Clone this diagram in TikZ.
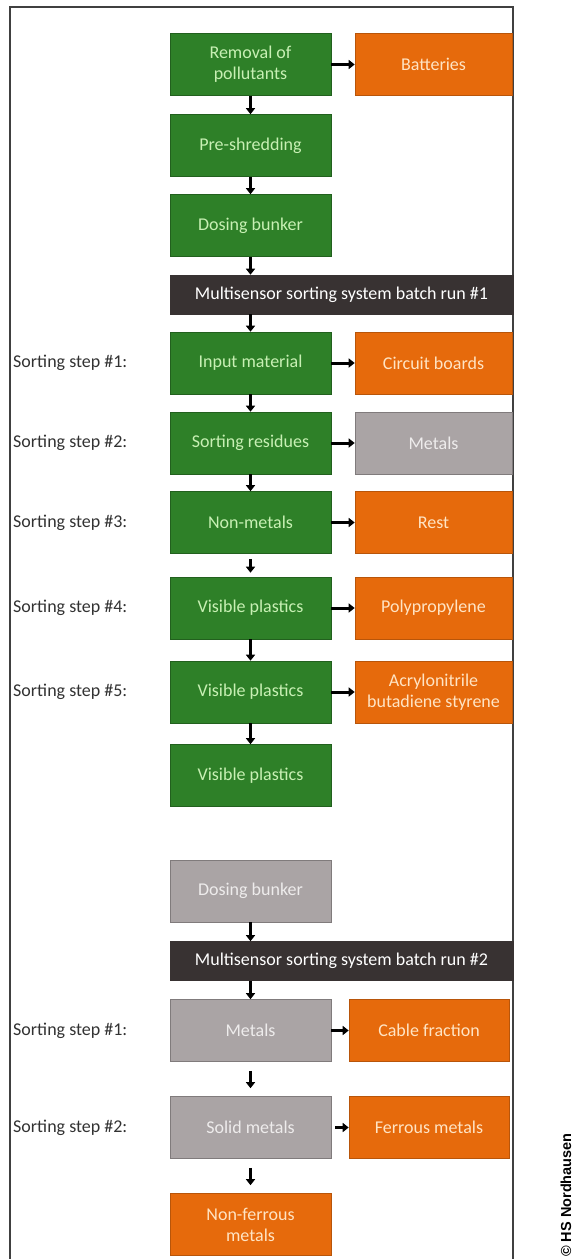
\documentclass[tikz,border=0pt]{standalone}
\usepackage{fontspec}
\setmainfont{Carlito}
\newfontfamily\credfont{Liberation Sans}
\usetikzlibrary{positioning,arrows.meta}
\usepackage{xcolor}
\definecolor{boxgreen}{RGB}{46,128,40}
\definecolor{greentxt}{RGB}{200,240,180}
\definecolor{boxorange}{RGB}{230,106,12}
\definecolor{orangetxt}{RGB}{255,228,196}
\definecolor{boxgray}{RGB}{170,164,165}
\definecolor{graytxt}{RGB}{238,236,236}
\definecolor{boxdark}{RGB}{56,50,50}
\definecolor{lbltxt}{RGB}{50,50,50}
\newcommand\boxfont{\fontsize{18}{21}\selectfont}

\begin{document}
\begin{tikzpicture}[
    x=1pt, y=-1pt,
    box/.style={minimum width=161pt, minimum height=62pt, inner sep=0pt, align=center, font=\boxfont, line width=0.6pt},
    Gbox/.style={box, fill=boxgreen, draw=boxgreen!75!black, text=greentxt},
    Obox/.style={box, minimum width=157pt, fill=boxorange, draw=boxorange!80!black, text=orangetxt},
    Sbox/.style={box, fill=boxgray, draw=boxgray!75!black, text=graytxt},
    Rbar/.style={box, minimum width=343pt, minimum height=39pt, fill=boxdark, draw=boxdark, text=white},
    flow/.style={-{Triangle[length=6pt, width=9pt]}, line width=3pt, black},
    stub/.style={flow, shorten <=9pt, shorten >=8pt},
    steplbl/.style={anchor=west, font=\boxfont, text=lbltxt, inner sep=0pt},
    frame/.style={line width=1.5pt, black!75},
]
\useasboundingbox (0,0) rectangle (573,1259);
\draw[frame] (10,1259) -- (10,7) -- (513,7) -- (513,1259);

% batch run 1
\node[Gbox] (rem) at (250.5, 64.5) {Removal of\\pollutants};
\node[Obox] (batt) at (433.5, 64.5) {Batteries};
\node[Gbox] (shred) at (250.5, 145.5) {Pre-shredding};
\node[Gbox] (dose) at (250.5, 225.5) {Dosing bunker};
\node[Rbar] (run1) at (341.5, 294.5) {Multisensor sorting system batch run \#1};
\node[Gbox] (inp) at (250.5, 363) {Input material};
\node[Obox] (circ) at (433.5, 363) {Circuit boards};
\node[Gbox] (res) at (250.5, 443) {Sorting residues};
\node[Sbox, minimum width=157pt] (metg) at (433.5, 443) {Metals};
\node[Gbox] (nonmet) at (250.5, 522.5) {Non-metals};
\node[Obox] (rest) at (433.5, 522.5) {Rest};
\node[Gbox] (vis4) at (250.5, 608) {Visible plastics};
\node[Obox] (pp) at (433.5, 608) {Polypropylene};
\node[Gbox] (vis5) at (250.5, 692) {Visible plastics};
\node[Obox] (abs) at (433.5, 692) {Acrylonitrile\\butadiene styrene};
\node[Gbox] (visend) at (250.5, 775.5) {Visible plastics};

\node[steplbl] (s1) at (13, 363) {Sorting step \#1:};
\node[steplbl] (s2) at (13, 443) {Sorting step \#2:};
\node[steplbl] (s3) at (13, 522.5) {Sorting step \#3:};
\node[steplbl] (s4) at (13, 608) {Sorting step \#4:};
\node[steplbl] (s5) at (13, 692) {Sorting step \#5:};

\draw[flow] (rem) -- (batt);
\draw[flow] (rem) -- (shred);
\draw[flow] (shred) -- (dose);
\draw[flow] (dose) -- (dose |- run1.north);
\draw[flow] (run1.south -| inp) -- (inp);
\draw[flow] (inp) -- (circ);
\draw[flow] (inp) -- (res);
\draw[flow] (res) -- (metg);
\draw[flow] (res) -- (nonmet);
\draw[flow] (nonmet) -- (rest);
\draw[flow, shorten <=5pt, shorten >=4pt] (nonmet) -- (vis4);
\draw[flow] (vis4) -- (pp);
\draw[flow] (vis4) -- (vis5);
\draw[flow] (vis5) -- (abs);
\draw[flow] (vis5) -- (visend);

% batch run 2
\node[Sbox] (dose2) at (250.5, 891) {Dosing bunker};
\node[Rbar] (run2) at (341.5, 961) {Multisensor sorting system batch run \#2};
\node[Sbox] (met) at (250.5, 1030.5) {Metals};
\node[Obox, minimum width=160pt] (cable) at (429, 1030.5) {Cable fraction};
\node[Sbox] (solid) at (250.5, 1127.5) {Solid metals};
\node[Obox, minimum width=160pt] (ferr) at (429, 1127.5) {Ferrous metals};
\node[Obox, minimum width=161pt] (nonfe) at (250.5, 1224.5) {Non-ferrous\\metals};

\node[steplbl] (t1) at (13, 1030.5) {Sorting step \#1:};
\node[steplbl] (t2) at (13, 1127.5) {Sorting step \#2:};

\draw[flow] (dose2) -- (dose2 |- run2.north);
\draw[flow] (run2.south -| met) -- (met);
\draw[flow] (met) -- (cable);
\draw[stub] (met) -- (solid);
\draw[flow, shorten <=4pt] (solid) -- (ferr);
\draw[stub] (solid) -- (nonfe);

\node[rotate=90, anchor=west, font=\credfont\bfseries\fontsize{14.5}{17}\selectfont, inner sep=0pt] (cred) at (566, 1257) {© HS Nordhausen};
\end{tikzpicture}
\end{document}
